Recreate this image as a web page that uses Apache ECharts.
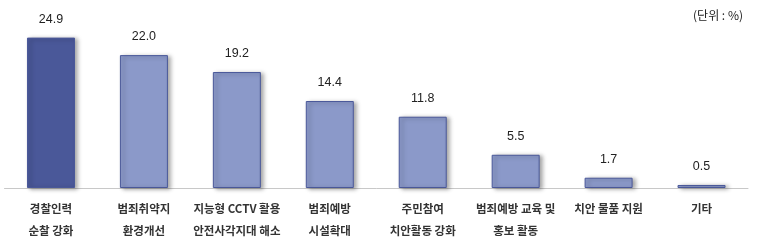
<!DOCTYPE html>
<html><head><meta charset="utf-8">
<script src="https://cdn.jsdelivr.net/npm/echarts@6/dist/echarts.min.js"></script>
<style>html,body{margin:0;padding:0;background:#fff}#c{width:757px;height:246px}</style>
</head><body><div id="c"></div>
<script>
const categories = ['경찰인력\n순찰 강화','범죄취약지\n환경개선','지능형 CCTV 활용\n안전사각지대 해소','범죄예방\n시설확대','주민참여\n치안활동 강화','범죄예방 교육 및\n홍보 활동','치안 물품 지원','기타'];
const values = [24.9, 22.0, 19.2, 14.4, 11.8, 5.5, 1.7, 0.5];
const unitLabel = '(단위 : %)';

const FONT = '"Noto Sans CJK KR", "Noto Sans", sans-serif';
const chart = echarts.init(document.getElementById('c'), null, {renderer:'canvas'});
chart.setOption({
  animation: false,
  backgroundColor: '#fff',
  title: {text: unitLabel, right: 9, top: 4, textStyle:{fontSize: 12, fontWeight: 'normal', color:'#222', fontFamily: FONT}},
  grid: {left: 4.5, right: 9, top: 37, bottom: 58, containLabel: false},
  xAxis: {
    type: 'category', data: categories,
    axisLine: {lineStyle: {color: '#c8c8c8', width: 1}},
    axisTick: {show: false},
    axisLabel: {interval: 0, color: '#333', fontSize: 11.5, fontWeight: 'bold', fontFamily: FONT, lineHeight: 22, margin: 10}
  },
  yAxis: {type: 'value', min: 0, max: 25, show: false, splitLine:{show:false}},
  series: [{
    type: 'bar', barWidth: 48,
    data: values.map((v,i)=>({value: v, itemStyle: {color: i===0 ? '#4a5899' : '#8b99c9'}})),
    itemStyle: {borderColor: '#4a5899', borderWidth: 1, shadowColor: 'rgba(0,0,0,0.35)', shadowBlur: 4, shadowOffsetX: 3, shadowOffsetY: 1},
    label: {show: true, position: 'top', distance: 12, formatter: p => p.value.toFixed(1), color: '#222', fontSize: 12.5, fontFamily: '"Liberation Sans", Arial, sans-serif'}
  }]
});
</script></body></html>
